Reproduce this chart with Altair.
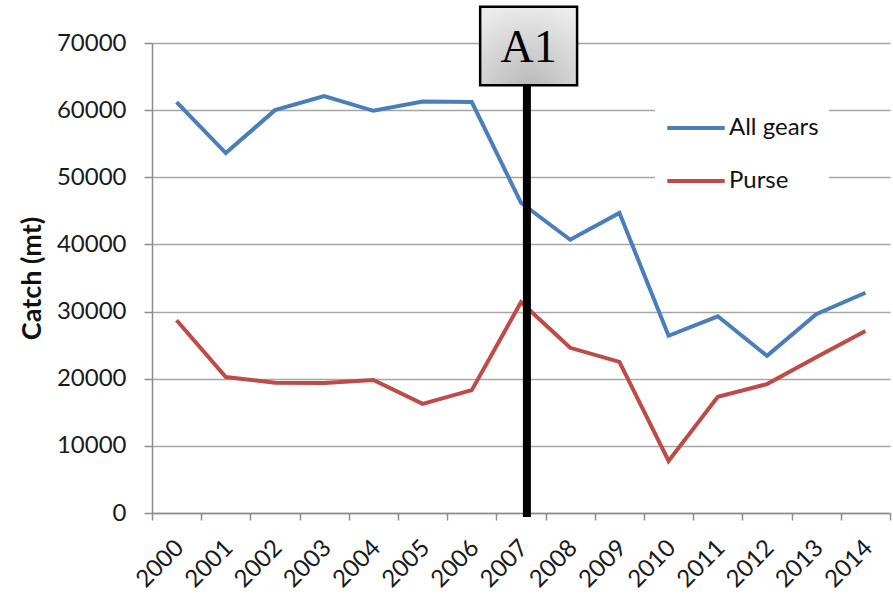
import altair as alt
import pandas as pd

years = ["2000", "2001", "2002", "2003", "2004", "2005", "2006", "2007",
         "2008", "2009", "2010", "2011", "2012", "2013", "2014"]
all_gears = [61200, 53600, 60000, 62100, 59900, 61300, 61200, 46200,
             40700, 44700, 26400, 29300, 23400, 29600, 32800]
purse = [28700, 20250, 19400, 19350, 19800, 16250, 18300, 31400,
         24600, 22500, 7750, 17300, 19200, 23200, 27100]
series_names = ["All gears", "Purse"]
series_colors = ["#4a7ebb", "#be4b48"]
y_ticks = [0, 10000, 20000, 30000, 40000, 50000, 60000, 70000]

# annotation (in category units 0..15 along x, catch units along y)
marker_pos = [7.62]
marker_y = [-600, 63700]
box_x = [6.67, 8.64]
box_y = [63700, 75400]
box_label = ["A1"]
label_y = [67200]

df = pd.DataFrame({
    "year": years * 2,
    "catch": all_gears + purse,
    "series": [series_names[0]] * len(years) + [series_names[1]] * len(years),
})

FONT = "Lato"
GRID = "#a6a6a6"

yscale = alt.Scale(domain=[0, 70000], nice=False)
yaxis = alt.Axis(title="Catch (mt)", values=y_ticks, format="d",
                 labelFont=FONT, labelFontSize=24, labelColor="#1a1a1a",
                 labelPadding=18, tickSize=8, tickColor="#8c8c8c",
                 domainColor="#8c8c8c", domainWidth=1.5, tickWidth=1.5,
                 gridColor=GRID, gridWidth=1.5)

lines = alt.Chart(df).mark_line(strokeWidth=4).encode(
    x=alt.X("year:O", sort=years,
            scale=alt.Scale(type="band", paddingInner=0, paddingOuter=0),
            axis=alt.Axis(title=None, labelAngle=-45, labelAlign="right",
                          labelBaseline="middle", tickBand="extent",
                          labelFont=FONT, labelFontSize=24, labelColor="#1a1a1a",
                          labelPadding=24, labelOffset=3, tickSize=7,
                          tickColor="#8c8c8c", domainColor="#8c8c8c",
                          domainWidth=1.5, tickWidth=1.5, grid=False)),
    y=alt.Y("catch:Q", scale=yscale, axis=yaxis),
    color=alt.Color("series:N",
                    scale=alt.Scale(domain=series_names, range=series_colors),
                    legend=alt.Legend(title=None, orient="none", legendX=503, legendY=44,
                                      fillColor="white", padding=10,
                                      symbolType="stroke", symbolSize=3300,
                                      symbolStrokeWidth=4, labelFont=FONT,
                                      labelFontSize=24, labelColor="#111",
                                      labelOffset=2, rowPadding=10)),
)

xq = alt.Scale(domain=[0, 15], nice=False, zero=False)

rule_df = pd.DataFrame({"pos": marker_pos, "catch": [marker_y[0]], "catch_end": [marker_y[1]]})
rule = alt.Chart(rule_df).mark_rule(color="black", strokeWidth=8, clip=False).encode(
    x=alt.X("pos:Q", scale=xq, axis=None),
    y=alt.Y("catch:Q", scale=yscale, axis=yaxis),
    y2="catch_end:Q",
)

box_df = pd.DataFrame({"x0": [box_x[0]], "x1": [box_x[1]],
                       "catch": [box_y[0]], "catch_end": [box_y[1]]})
box = alt.Chart(box_df).mark_rect(
    clip=False, stroke="black", strokeWidth=2.5,
    fill=alt.RadialGradient(
        gradient="radial",
        stops=[alt.GradientStop(color="#b8b8b8", offset=0),
               alt.GradientStop(color="#ececec", offset=1)],
        x1=0.5, y1=0.95, r1=0, x2=0.5, y2=0.95, r2=0.9),
).encode(
    x=alt.X("x0:Q", scale=xq, axis=None), x2="x1:Q",
    y=alt.Y("catch:Q", scale=yscale, axis=yaxis), y2="catch_end:Q",
)

text_df = pd.DataFrame({"pos": [sum(box_x) / 2], "catch": label_y, "t": box_label})
text = alt.Chart(text_df).mark_text(
    font="Liberation Serif", fontSize=46, baseline="alphabetic", align="center",
    color="black", clip=False,
).encode(
    x=alt.X("pos:Q", scale=xq, axis=None),
    y=alt.Y("catch:Q", scale=yscale, axis=yaxis),
    text="t:N",
)

chart = alt.layer(lines, rule, box, text).resolve_scale(x="independent").properties(
    width=738, height=470,
    autosize=alt.AutoSizeParams(type="none"),
    padding={"left": 152, "top": 43, "right": 3, "bottom": 84},
    background="white",
).configure_view(stroke=None).configure_axisY(
    titleFont=FONT, titleFontSize=27, titleFontWeight="bold", titleColor="#111",
    titlePadding=10,
)

chart.save("out.html", embed_options={"renderer": "svg", "actions": False})
